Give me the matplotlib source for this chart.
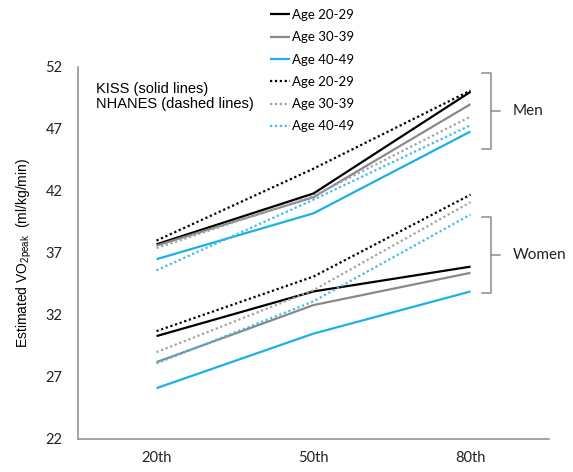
import numpy as np
import matplotlib.pyplot as plt

# ---------- data ----------
percentiles = ["20th", "50th", "80th"]
ages = ["Age 20-29", "Age 30-39", "Age 40-49"]

# KISS (solid lines)
kiss_men = [
    [37.7, 41.8, 50.0],   # 20-29
    [37.6, 41.5, 49.0],   # 30-39
    [36.5, 40.2, 46.8],   # 40-49
]
kiss_women = [
    [30.3, 33.9, 35.9],
    [28.2, 32.8, 35.4],
    [26.1, 30.5, 33.9],
]

# NHANES (dotted lines)
nhanes_men = [
    [38.0, 43.8, 50.1],
    [37.4, 41.6, 48.0],
    [35.6, 41.3, 47.3],
]
nhanes_women = [
    [30.7, 35.1, 41.7],
    [29.0, 34.0, 41.1],
    [28.1, 33.1, 40.1],
]

solid_colors = ["#000000", "#898989", "#1CB0E4"]
dot_colors = ["#000000", "#A3A3A3", "#3FBDE8"]

# ---------- figure ----------
fig = plt.figure(figsize=(5.73, 4.72), dpi=100)
ax = fig.add_axes([78 / 573, 1 - 439 / 472, 471 / 573, 372 / 472])

x = np.arange(len(percentiles))
handles = []
for i, age in enumerate(ages):
    h, = ax.plot(x, kiss_men[i], color=solid_colors[i], lw=1.6,
                 label=age, solid_capstyle="butt")
    ax.plot(x, kiss_women[i], color=solid_colors[i], lw=1.6, solid_capstyle="butt")
    handles.append(h)
for i, age in enumerate(ages):
    h, = ax.plot(x, nhanes_men[i], color=dot_colors[i], lw=1.6,
                 ls=(0, (1, 1.2)), label=age)
    ax.plot(x, nhanes_women[i], color=dot_colors[i], lw=1.6, ls=(0, (1, 1.2)))
    handles.append(h)

ax.set_xlim(-0.5, 2.5)
ax.set_ylim(22, 52)
ax.set_yticks(np.arange(22, 53, 5))
ax.set_xticks(x)
ax.set_xticklabels(percentiles)
ax.tick_params(length=0, labelsize=10.5, labelcolor="#222222")
ax.tick_params(axis="y", pad=11)
ax.tick_params(axis="x", pad=9)
for lbl in ax.get_xticklabels() + ax.get_yticklabels():
    lbl.set_family("Lato")

for side in ["top", "right"]:
    ax.spines[side].set_visible(False)
for side in ["left", "bottom"]:
    ax.spines[side].set_color("#8C8C8C")
    ax.spines[side].set_linewidth(1.1)

ax.set_ylabel(r"Estimated VO$_{\mathregular{2peak}}$  (ml/kg/min)",
              family="Liberation Sans", fontsize=10, labelpad=8)

ax.text(0.038, 0.96, "KISS (solid lines)\nNHANES (dashed lines)",
        transform=ax.transAxes, family="Liberation Sans", fontsize=10.5,
        va="top", ha="left", linespacing=1.1)

fig.legend(handles=handles, loc="upper left",
           bbox_to_anchor=(270 / 573, 1 - 9 / 472), frameon=False,
           prop={"family": "Lato", "size": 9.5}, handlelength=1.5,
           handletextpad=0.2, labelspacing=0.78, borderaxespad=0,
           borderpad=0)

# brackets for Men / Women
for top, bot, name in [(51.5, 45.4, "Men"), (39.9, 33.8, "Women")]:
    mid = (top + bot) / 2
    ax.plot([2.076, 2.133, 2.133, 2.076], [top, top, bot, bot],
            color="#8C8C8C", lw=1.1, clip_on=False)
    ax.plot([2.133, 2.19], [mid, mid], color="#8C8C8C", lw=1.1, clip_on=False)
    ax.text(2.267, mid, name, family="Lato", fontsize=11, color="#222222",
            va="center", ha="left")

fig.savefig("out.png", dpi=100)
